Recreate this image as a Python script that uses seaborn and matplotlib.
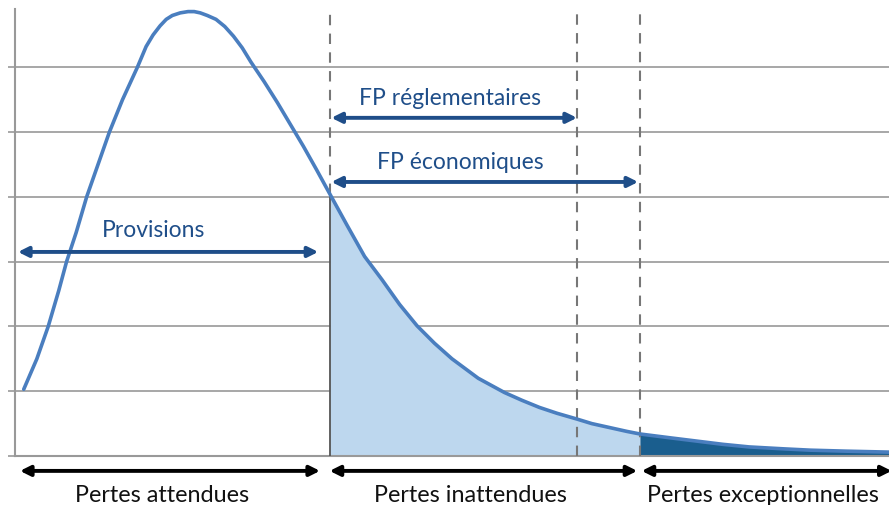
import numpy as np
import matplotlib
matplotlib.use("Agg")
import matplotlib.pyplot as plt
import seaborn as sns
import pandas as pd

# loss distribution (x = loss level 0-100, y = density in grid units)
loss = [1, 2.5, 3.8, 5, 5.9, 7, 8.2, 9.5, 10.8, 12.3, 14, 15, 15.8, 16.6, 17.3, 18, 18.9, 19.8,
        20.5, 21.2, 22, 23, 24, 25, 26, 27, 28.5, 30, 31.5, 33, 34.5, 36, 38, 40, 42, 44, 46,
        48, 50, 53, 56, 58, 60, 62, 64.3, 66, 68, 70, 71.5, 75, 78, 81, 84, 88, 91, 95, 100]
density = [1.03, 1.5, 2.0, 2.55, 3.0, 3.45, 4.0, 4.5, 5.0, 5.5, 6.0, 6.32, 6.5, 6.64, 6.74, 6.8, 6.84, 6.86,
           6.86, 6.84, 6.8, 6.74, 6.63, 6.48, 6.3, 6.08, 5.78, 5.46, 5.12, 4.78, 4.42, 4.05, 3.56, 3.08, 2.72, 2.34, 2.01,
           1.74, 1.5, 1.2, 0.98, 0.86, 0.75, 0.66, 0.57, 0.5, 0.44, 0.38, 0.34, 0.28, 0.23, 0.18, 0.14, 0.11, 0.09, 0.075, 0.06]

threshold_el = 36      # pertes attendues / inattendues
threshold_fp_reg = 64.3
threshold_fp_eco = 71.5

top_labels = ["Provisions", "FP réglementaires", "FP économiques"]
bottom_labels = ["Pertes attendues", "Pertes inattendues", "Pertes exceptionnelles"]

df = pd.DataFrame({"loss": loss, "density": density})

sns.set_style("white")
plt.rcParams['font.family'] = ['Lato', 'DejaVu Sans']

fig = plt.figure(figsize=(8.89, 5.06), dpi=100)
ax = fig.add_axes([15 / 889, 49 / 506, 874 / 889, 447 / 506])

curve_col = "#4a7ebf"
navy = "#1f4e89"

# gridlines
for g in range(1, 7):
    ax.axhline(g, color="#a0a0a0", lw=1.3, zorder=0)

x = df["loss"].to_numpy()
y = df["density"].to_numpy()
ax.fill_between(x, 0, y, where=(x >= threshold_el) & (x <= threshold_fp_eco), color="#bdd7ee", lw=0, zorder=1)
ax.fill_between(x, 0, y, where=(x >= threshold_fp_eco), color="#1a5e8e", lw=0, zorder=1)

sns.lineplot(data=df, x="loss", y="density", ax=ax, color=curve_col, lw=2.6, zorder=4)

# vertical markers
y_el = np.interp(threshold_el, x, y)
ax.vlines(threshold_el, 0, y_el, color="#555555", lw=1.3, zorder=3)
ax.vlines(threshold_el, y_el, 6.9, color="#777777", lw=1.5, linestyles=(0, (5, 4)), zorder=3)
ax.vlines([threshold_fp_reg, threshold_fp_eco], 0, 6.9, color="#777777", lw=1.5,
          linestyles=(0, (5, 4)), zorder=3)

ax.set_xlim(0, 100)
ax.set_ylim(0, 6.9)
ax.set_xlabel("")
ax.set_ylabel("")
ax.set_xticks([])
ax.set_xticks(np.arange(0, 100.01, 0.4), minor=True)
ax.set_yticks(range(0, 7))
ax.set_yticklabels([])
ax.tick_params(axis="x", which="minor", length=4, width=0.8, color="#999999", direction="out")
ax.tick_params(axis="y", length=5, width=1.2, color="#999999", left=True)
for s in ["top", "right"]:
    ax.spines[s].set_visible(False)
ax.spines["left"].set_color("#999999")
ax.spines["left"].set_linewidth(1.5)
ax.spines["bottom"].set_color("#999999")
ax.spines["bottom"].set_linewidth(1.5)


def darrow(x0, x1, yv, color, lw=2.8):
    ax.annotate("", xy=(x1, yv), xytext=(x0, yv), annotation_clip=False,
                arrowprops=dict(arrowstyle="<|-|>", color=color, lw=lw, mutation_scale=15,
                                shrinkA=0, shrinkB=0), zorder=6)


# capital / provisions arrows
darrow(0.34, 34.7, 3.15, navy)
ax.text(15.8, 3.5, top_labels[0], color=navy, fontsize=16.5, ha="center", va="center", zorder=6)
darrow(36.2, 64.3, 5.22, navy)
ax.text(49.8, 5.53, top_labels[1], color=navy, fontsize=16.5, ha="center", va="center", zorder=6)
darrow(36.2, 71.3, 4.23, navy)
ax.text(51.0, 4.54, top_labels[2], color=navy, fontsize=16.5, ha="center", va="center", zorder=6)

# bottom loss zones
for (x0, x1), xc, lab in zip([(0.57, 34.9), (36.0, 71.2), (71.7, 100.3)], [16.8, 52.1, 85.6], bottom_labels):
    darrow(x0, x1, -0.23, "black")
    ax.text(xc, -0.6, lab, color="#111111", fontsize=16.8, ha="center", va="center", clip_on=False)

fig.savefig("out.png", dpi=100)
